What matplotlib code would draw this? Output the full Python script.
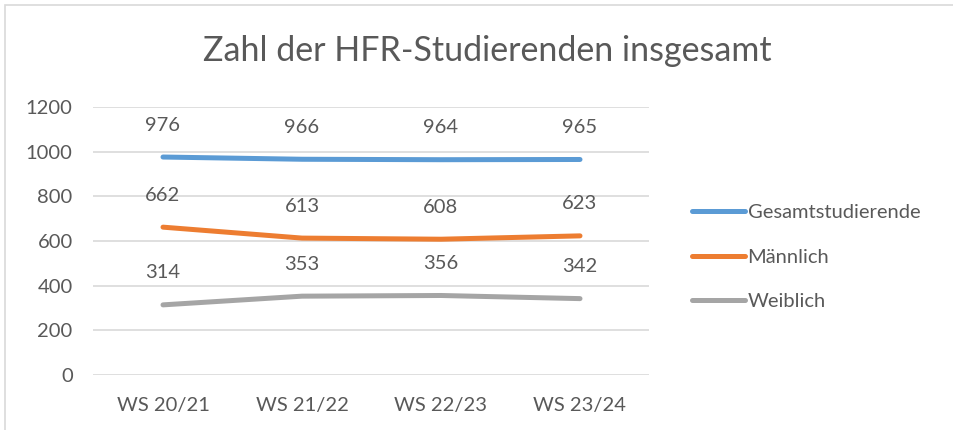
import matplotlib.pyplot as plt
from matplotlib.patches import Rectangle

semester = ['WS 20/21', 'WS 21/22', 'WS 22/23', 'WS 23/24']
gesamt = [976, 966, 964, 965]
maennlich = [662, 613, 608, 623]
weiblich = [314, 353, 356, 342]

serien = [
    ('Gesamtstudierende', gesamt, '#5B9BD5'),
    ('Männlich', maennlich, '#ED7D31'),
    ('Weiblich', weiblich, '#A5A5A5'),
]
textfarbe = '#595959'

plt.rcParams['font.family'] = ['Lato', 'DejaVu Sans']

fig = plt.figure(figsize=(9.54, 4.30), dpi=100)

# Rahmen des Diagrammbereichs (nur oben und links sichtbar)
fig.patches.append(Rectangle((5 / 954, -0.1), 1.2, 1 - 5 / 430 + 0.1,
                             transform=fig.transFigure, fill=False,
                             edgecolor='#D9D9D9', linewidth=1.2))

ax = fig.add_axes([93.5 / 954, 55 / 430, 556 / 954, 268 / 430])
x = list(range(len(semester)))

for name, werte, farbe in serien:
    ax.plot(x, werte, color=farbe, linewidth=3.6, solid_capstyle='round', label=name)
    for xi, w in zip(x, werte):
        ax.annotate(str(w), (xi, w), xytext=(0, 23), textcoords='offset points',
                    ha='center', va='center', fontsize=14.5, color=textfarbe)

ax.set_xlim(-0.5, len(semester) - 0.5)
ax.set_ylim(0, 1200)
ax.set_yticks(range(0, 1201, 200))
ax.set_xticks(x)
ax.set_xticklabels(semester)
ax.grid(axis='y', color='#D9D9D9', linewidth=1.2)
ax.set_axisbelow(True)
for s in ax.spines.values():
    s.set_visible(False)
ax.tick_params(length=0, labelsize=14.5, labelcolor=textfarbe)
ax.tick_params(axis='x', pad=16)
ax.tick_params(axis='y', pad=15)

fig.text(487 / 954, 1 - 51 / 430, 'Zahl der HFR-Studierenden insgesamt',
         ha='center', va='center', fontsize=24.5, color=textfarbe)

leg = fig.legend(loc='center left', bbox_to_anchor=(674 / 954, 1 - 257 / 430),
                 frameon=False, fontsize=14.5, handlelength=2.65, handletextpad=0.1,
                 labelspacing=1.35, labelcolor=textfarbe)
for line in leg.get_lines():
    line.set_linewidth(3.6)

fig.savefig('out.png', dpi=100)
